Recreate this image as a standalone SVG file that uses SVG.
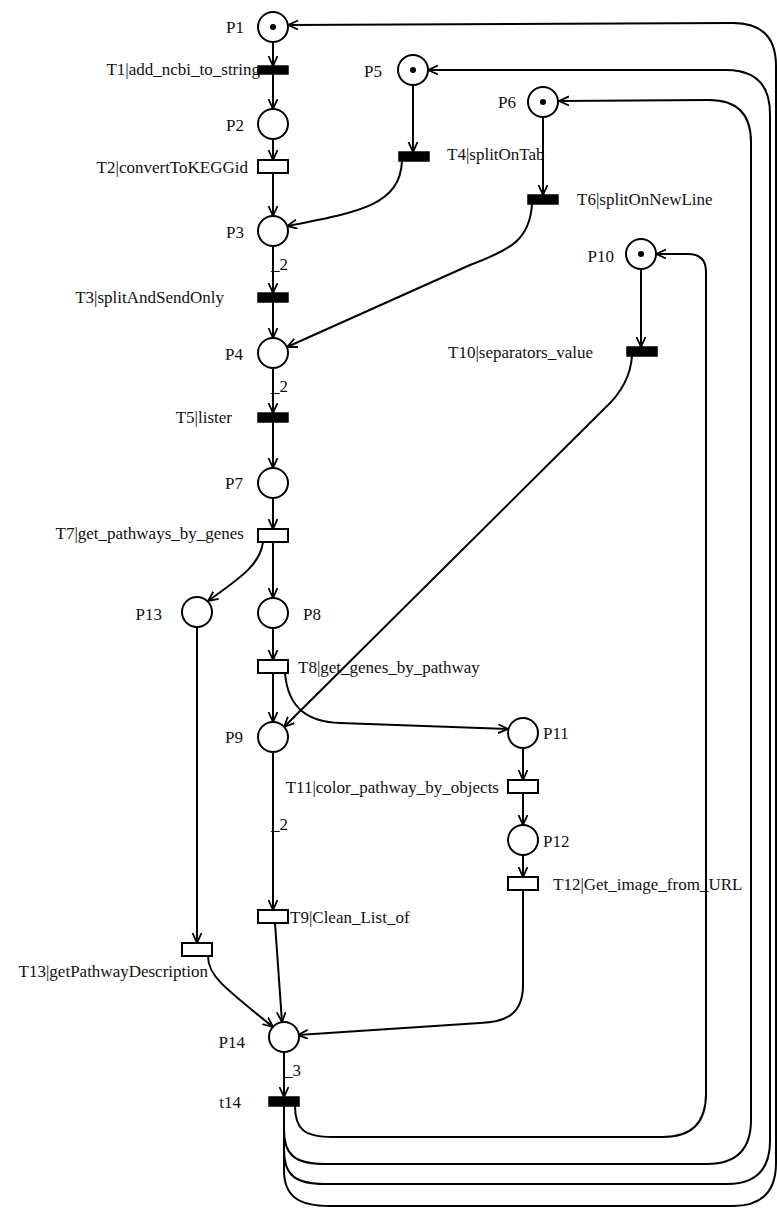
<svg xmlns="http://www.w3.org/2000/svg" width="777" height="1208" viewBox="0 0 777 1208">
<defs>
<marker id="arr" markerUnits="userSpaceOnUse" markerWidth="12" markerHeight="12" refX="10" refY="5" orient="auto"><path d="M0,0.5 L10,5 L0,9.5" fill="none" stroke="#000" stroke-width="1.8"/></marker>
</defs>
<style>
text{font-family:"Liberation Serif","Times New Roman",serif;font-size:17px;fill:#111}
.e{text-anchor:end}
.pl{fill:#fff;stroke:#000;stroke-width:2}
.tb{fill:#000;stroke:#000;stroke-width:1.5}
.tw{fill:#fff;stroke:#000;stroke-width:2}
.tk{fill:#000}
.a{fill:none;stroke:#000;stroke-width:2;marker-end:url(#arr)}
</style>
<rect width="777" height="1208" fill="#fff"/>
<g id="connectors">
<path class="a" d="M273,42 L273,66"/>
<path class="a" d="M273,74 L273,109"/>
<path class="a" d="M273,139 L273,160"/>
<path class="a" d="M273,173 L273,216"/>
<path class="a" d="M413,85 L413,152"/>
<path class="a" d="M402,161 C400,205 360,212 287,226"/>
<path class="a" d="M543,117 L543,195"/>
<path class="a" d="M532,204 C530,240 510,250 470,265 L287,347"/>
<path class="a" d="M273,246 L273,293"/>
<path class="a" d="M273,302 L273,338"/>
<path class="a" d="M273,368 L273,413"/>
<path class="a" d="M273,422 L273,468"/>
<path class="a" d="M641,269 L641,347"/>
<path class="a" d="M632,356 Q630,385 605,408 L284,727"/>
<path class="a" d="M273,498 L273,529"/>
<path class="a" d="M273,542 L273,598"/>
<path class="a" d="M263,542 C260,565 240,578 208,601"/>
<path class="a" d="M273,628 L273,660"/>
<path class="a" d="M273,673 L273,722"/>
<path class="a" d="M285,673 C288,710 310,722 340,723 L508,729"/>
<path class="a" d="M273,752 L273,910"/>
<path class="a" d="M523,748 L523,780"/>
<path class="a" d="M523,793 L523,825"/>
<path class="a" d="M523,855 L523,877"/>
<path class="a" d="M523,890 L523,985 C523,1015 505,1022 480,1023 L298,1035"/>
<path class="a" d="M197,627 L197,943"/>
<path class="a" d="M208,956 C208,975 222,986 273,1027"/>
<path class="a" d="M275,923 L282,1022"/>
<path class="a" d="M284,1052 L284,1097"/>
<path class="a" d="M295,1106 C295,1130 305,1137 333,1137 L663,1137 Q706,1137 706,1094 L706,272 Q706,254 688,254 L656,254"/>
<path class="a" d="M284,1106 L284,1130 C284,1155 295,1164 325,1164 L707,1164 Q751,1164 751,1120 L751,142 Q751,100 709,100 L559,101"/>
<path class="a" d="M284,1106 L284,1150 C284,1175 295,1184 325,1184 L727,1184 Q770,1184 770,1141 L770,114 Q770,70 726,70 L428,70"/>
<path class="a" d="M284,1106 L284,1170 C284,1196 298,1206 330,1206 L733,1206 Q776,1206 776,1163 L776,66 Q776,23 733,23 L288,25"/>
<text x="271" y="270">_2</text>
<text x="271" y="392">_2</text>
<text x="271" y="830">_2</text>
<text x="284" y="1076">_3</text>
</g>
<g id="P1"><circle class="pl" cx="273" cy="27" r="15"/><circle class="tk" cx="273" cy="27" r="3"/><text class="e" x="244" y="33">P1</text></g>
<g id="P2"><circle class="pl" cx="273" cy="124" r="15"/><text class="e" x="244" y="131">P2</text></g>
<g id="P3"><circle class="pl" cx="273" cy="231" r="15"/><text class="e" x="244" y="238">P3</text></g>
<g id="P4"><circle class="pl" cx="273" cy="353" r="15"/><text class="e" x="243" y="360">P4</text></g>
<g id="P5"><circle class="pl" cx="413" cy="70" r="15"/><circle class="tk" cx="413" cy="70" r="3"/><text class="e" x="382" y="77">P5</text></g>
<g id="P6"><circle class="pl" cx="543" cy="102" r="15"/><circle class="tk" cx="543" cy="102" r="3"/><text class="e" x="516" y="108">P6</text></g>
<g id="P7"><circle class="pl" cx="273" cy="483" r="15"/><text class="e" x="243" y="489">P7</text></g>
<g id="P8"><circle class="pl" cx="273" cy="613" r="15"/><text x="303" y="620">P8</text></g>
<g id="P9"><circle class="pl" cx="273" cy="737" r="15"/><text class="e" x="243" y="743">P9</text></g>
<g id="P10"><circle class="pl" cx="641" cy="254" r="15"/><circle class="tk" cx="641" cy="254" r="3"/><text class="e" x="614" y="262">P10</text></g>
<g id="P11"><circle class="pl" cx="523" cy="733" r="15"/><text x="543" y="739">P11</text></g>
<g id="P12"><circle class="pl" cx="523" cy="840" r="15"/><text x="543" y="847">P12</text></g>
<g id="P13"><circle class="pl" cx="197" cy="612" r="15"/><text class="e" x="162" y="620">P13</text></g>
<g id="P14"><circle class="pl" cx="284" cy="1037" r="15"/><text class="e" x="245" y="1048">P14</text></g>
<g id="T1"><rect class="tb" x="258" y="66" width="30" height="8"/><text class="e" x="260" y="75">T1|add_ncbi_to_string</text></g>
<g id="T2"><rect class="tw" x="258" y="160" width="30" height="13"/><text class="e" x="248" y="173">T2|convertToKEGGid</text></g>
<g id="T3"><rect class="tb" x="258" y="293" width="30" height="9"/><text class="e" x="224" y="303">T3|splitAndSendOnly</text></g>
<g id="T4"><rect class="tb" x="399" y="152" width="30" height="9"/><text x="447" y="160">T4|splitOnTab</text></g>
<g id="T5"><rect class="tb" x="258" y="413" width="30" height="9"/><text class="e" x="232" y="423">T5|lister</text></g>
<g id="T6"><rect class="tb" x="528" y="195" width="30" height="9"/><text x="577" y="205">T6|splitOnNewLine</text></g>
<g id="T7"><rect class="tw" x="258" y="529" width="30" height="13"/><text class="e" x="244" y="539">T7|get_pathways_by_genes</text></g>
<g id="T8"><rect class="tw" x="258" y="660" width="30" height="13"/><text x="298" y="673">T8|get_genes_by_pathway</text></g>
<g id="T9"><rect class="tw" x="258" y="910" width="30" height="13"/><text x="290" y="923">T9|Clean_List_of</text></g>
<g id="T10"><rect class="tb" x="627" y="347" width="30" height="9"/><text x="448" y="358">T10|separators_value</text></g>
<g id="T11"><rect class="tw" x="508" y="780" width="30" height="13"/><text class="e" x="499" y="793">T11|color_pathway_by_objects</text></g>
<g id="T12"><rect class="tw" x="508" y="877" width="30" height="13"/><text x="553" y="890">T12|Get_image_from_URL</text></g>
<g id="T13"><rect class="tw" x="182" y="943" width="30" height="13"/><text class="e" x="208" y="977">T13|getPathwayDescription</text></g>
<g id="t14"><rect class="tb" x="269" y="1097" width="30" height="9"/><text class="e" x="241" y="1108">t14</text></g>
</svg>
